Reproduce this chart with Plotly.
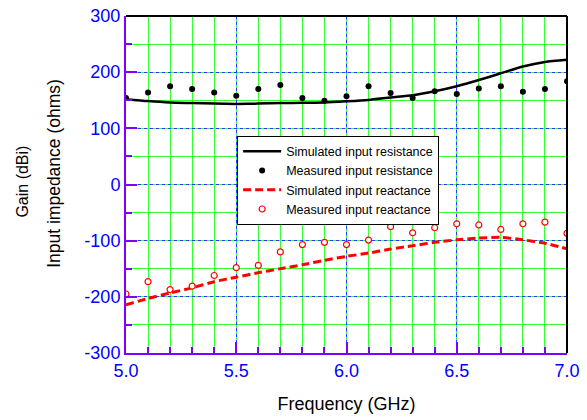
import plotly.graph_objects as go

freq = [5.0, 5.1, 5.2, 5.3, 5.4, 5.5, 5.6, 5.7, 5.8, 5.9, 6.0,
        6.1, 6.2, 6.3, 6.4, 6.5, 6.6, 6.7, 6.8, 6.9, 7.0]

sim_resistance = [152, 148.5, 146, 145, 144, 143.5, 144, 145, 145.5, 146, 148,
                  150.5, 155, 159, 166, 175, 186, 198, 210, 218, 222]
meas_resistance = [154, 164, 175, 170, 164, 158, 170, 177, 154, 149, 157,
                   175, 163, 154, 166, 161, 171, 175, 165, 170, 184]

sim_reactance = [-214, -203, -193, -184, -173, -165, -157, -150, -143, -135, -128,
                 -122, -115, -109, -103, -98.5, -95.5, -94, -98.5, -104.5, -114.5]
meas_reactance = [-195, -173, -187, -181, -162, -148, -144, -120, -107, -103, -107,
                  -99, -75, -86, -77, -70, -72, -80, -70, -67, -87]

x_ticks = [5.0, 5.5, 6.0, 6.5, 7.0]
x_tick_labels = ["5.0", "5.5", "6.0", "6.5", "7.0"]
y_ticks = [-300, -200, -100, 0, 100, 200, 300]
y_tick_labels = ["-300", "-200", "-100", "0", "100", "200", "300"]

FONT = "Arial, Liberation Sans, sans-serif"
PURPLE = "#7f00ff"
BLUE = "#3333ff"
GREEN = "#33ff33"

fig = go.Figure()
fig.add_trace(go.Scatter(x=freq, y=sim_resistance, mode="lines",
                         name="Simulated input resistance",
                         line=dict(color="black", width=2.5, shape="spline", smoothing=0.6)))
fig.add_trace(go.Scatter(x=freq, y=meas_resistance, mode="markers",
                         name="Measured input resistance",
                         marker=dict(color="black", size=6)))
fig.add_trace(go.Scatter(x=freq, y=sim_reactance, mode="lines",
                         name="Simulated input reactance",
                         line=dict(color="#ff0000", width=3, dash="8px,4px", shape="spline", smoothing=0.6)))
fig.add_trace(go.Scatter(x=freq, y=meas_reactance, mode="markers",
                         name="Measured input reactance",
                         marker=dict(color="white", size=6, symbol="circle",
                                     line=dict(color="#ff0000", width=1.2))))

fig.update_layout(
    width=587, height=420,
    margin=dict(l=126, r=20, t=16, b=67, autoexpand=False),
    plot_bgcolor="white", paper_bgcolor="white",
    font=dict(family=FONT, size=18, color="black"),
    showlegend=True,
    legend=dict(x=0.252, y=0.645, xanchor="left", yanchor="top",
                bgcolor="white", bordercolor="black", borderwidth=1,
                font=dict(family=FONT, size=12.5, color="black"),
                tracegroupgap=0, itemwidth=38),
)

fig.update_xaxes(
    range=[5.0, 7.0], tickvals=x_ticks, ticktext=x_tick_labels,
    automargin=False,
    showline=True, linecolor=PURPLE, linewidth=2,
    ticks="inside", ticklen=11, tickwidth=2, tickcolor=PURPLE,
    tickfont=dict(color="#0000ff", size=18, family=FONT),
    showgrid=True, gridcolor=BLUE, gridwidth=1, griddash="dot",
    zeroline=False,
    minor=dict(dtick=0.1, ticks="inside", ticklen=6, tickwidth=2, tickcolor=PURPLE,
               showgrid=True, gridcolor=GREEN, gridwidth=1, griddash="solid"),
    title=dict(text="Frequency (GHz)", font=dict(size=18, color="black", family=FONT), standoff=18),
)
fig.update_yaxes(
    range=[-300, 300], tickvals=y_ticks, ticktext=y_tick_labels,
    automargin=False,
    showline=True, linecolor=PURPLE, linewidth=2,
    ticks="inside", ticklen=11, tickwidth=2, tickcolor=PURPLE,
    tickfont=dict(color="#0000ff", size=18, family=FONT),
    showgrid=True, gridcolor=BLUE, gridwidth=1, griddash="dot",
    zeroline=False,
    minor=dict(dtick=50, ticks="inside", ticklen=6, tickwidth=2, tickcolor=PURPLE,
               showgrid=True, gridcolor=GREEN, gridwidth=1, griddash="solid"),
)

# top and right frame lines (black)
fig.add_shape(type="line", xref="paper", yref="paper", x0=0, x1=1, y0=1, y1=1,
              line=dict(color="black", width=2))
fig.add_shape(type="line", xref="paper", yref="paper", x0=1, x1=1, y0=0, y1=1,
              line=dict(color="black", width=2))

fig.add_annotation(text="Input impedance (ohms)", xref="paper", yref="paper",
                   x=-0.163, y=0.532, xanchor="center", yanchor="middle",
                   textangle=-90, showarrow=False,
                   font=dict(size=17.5, color="black", family=FONT))
fig.add_annotation(text="Gain (dBi)", xref="paper", yref="paper",
                   x=-0.234, y=0.508, xanchor="center", yanchor="middle",
                   textangle=-90, showarrow=False,
                   font=dict(size=16, color="black", family=FONT))

fig.write_html("out.html", config={"displayModeBar": False},
               post_script="document.body.style.margin='0px';")
